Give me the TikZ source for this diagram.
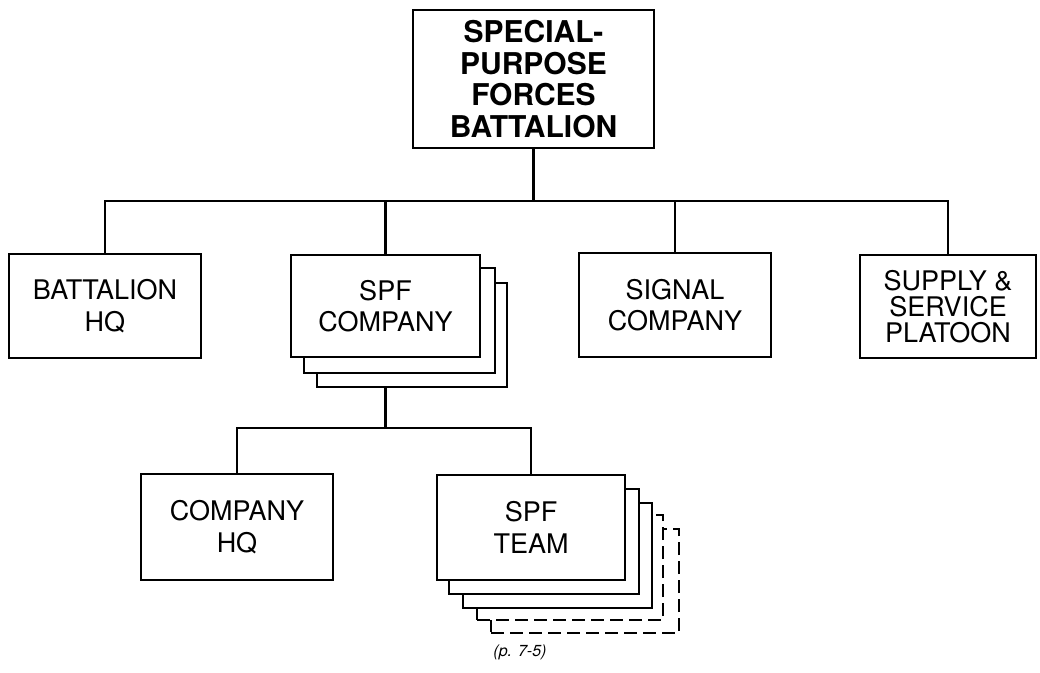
\documentclass[tikz,border=0pt]{standalone}
\usepackage{fontspec}
\setmainfont{TeX Gyre Heros}
\begin{document}
\begin{tikzpicture}[x=1pt,y=-1pt,
  box/.style={draw, line width=2.2pt, fill=white, align=center, inner sep=0pt,
    font=\fontsize{27}{31.5}\selectfont},
  backbox/.style={draw, line width=2.2pt, fill=white, inner sep=0pt},
  dashbox/.style={draw, line width=1.4pt, dash pattern=on 13pt off 6pt, fill=white, inner sep=0pt},
  link/.style={line width=2.2pt}]
\useasboundingbox (0,0) rectangle (1040,672);
% top
\node[box, minimum width=241pt, minimum height=138pt,
  font=\fontsize{30}{31.5}\selectfont\bfseries] (top) at (533.5,79) {SPECIAL-\\PURPOSE\\FORCES\\BATTALION};
\coordinate (bus1) at (0,201);
\coordinate (bus2) at (0,428);
% level 2
\node[box, minimum width=192pt, minimum height=104pt] (bhq) at (105,306) {BATTALION\\HQ};
\node[backbox, minimum width=190pt, minimum height=104pt] (spfc3) at (412,335) {};
\node[backbox, minimum width=191pt, minimum height=105pt] (spfc2) at (399.5,320.5) {};
\node[box, minimum width=189pt, minimum height=102pt] (spfc) at (385.5,306) {SPF\\COMPANY};
\node[box, minimum width=192pt, minimum height=104pt] (sig) at (675,305) {SIGNAL\\COMPANY};
\node[box, minimum width=176pt, minimum height=103pt,
  font=\fontsize{27}{25.8}\selectfont] (sup) at (948,306.5) {SUPPLY \&\\SERVICE\\PLATOON};
% level 3
\node[box, minimum width=192pt, minimum height=106pt] (chq) at (237,527) {COMPANY\\HQ};
\node[dashbox, minimum width=188pt, minimum height=104pt] (team5) at (585,581) {};
\node[dashbox, minimum width=186pt, minimum height=105pt] (team4) at (570,567.5) {};
\node[backbox, minimum width=189pt, minimum height=105pt] (team3) at (557.5,555.5) {};
\node[backbox, minimum width=190pt, minimum height=105pt] (team2) at (544,541.5) {};
\node[box, minimum width=188pt, minimum height=105pt] (team) at (531,527.5) {SPF\\TEAM};
% connectors
\draw[link] (top.south) -- (top.south |- bus1);
\draw[link] (bhq.north) -- (bhq.north |- bus1) -- (sup.north |- bus1) -- (sup.north);
\draw[link] (spfc.north) -- (spfc.north |- bus1);
\draw[link] (sig.north) -- (sig.north |- bus1);
\draw[link] (spfc3.south -| spfc.south) -- (spfc.south |- bus2);
\draw[link] (chq.north) -- (chq.north |- bus2) -- (team.north |- bus2) -- (team.north);
% caption
\node[font=\fontsize{16}{18}\selectfont\itshape] (cap) at (520,652) {(p. 7-5)};
\end{tikzpicture}
\end{document}
